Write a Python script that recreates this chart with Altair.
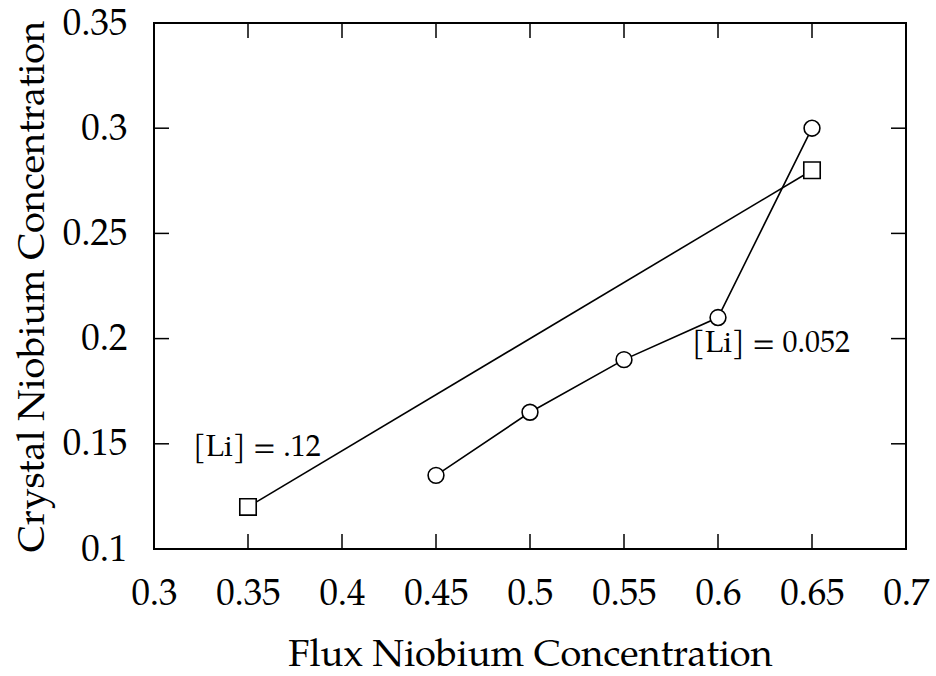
import altair as alt
import pandas as pd

# Series with [Li] = .12 (squares)
sq_x = [0.35, 0.65]
sq_y = [0.12, 0.28]
# Series with [Li] = 0.052 (circles)
ci_x = [0.45, 0.50, 0.55, 0.60, 0.65]
ci_y = [0.135, 0.165, 0.19, 0.21, 0.30]

x_ticks = [0.3, 0.35, 0.4, 0.45, 0.5, 0.55, 0.6, 0.65, 0.7]
y_ticks = [0.1, 0.15, 0.2, 0.25, 0.3, 0.35]

ann_text = ["[Li] = .12", "[Li] = 0.052"]
ann_x = [0.3207, 0.5862]
ann_y = [0.1485, 0.1979]

FONT = "P052, 'TeX Gyre Pagella', 'URW Palladio L', Palatino, 'Liberation Serif', serif"
W, H = 752, 526
TL = 15

sq = pd.DataFrame({"x": sq_x, "y": sq_y})
ci = pd.DataFrame({"x": ci_x, "y": ci_y})
ann = pd.DataFrame({"x": ann_x, "y": ann_y, "t": ann_text})
xt = pd.DataFrame({"v": x_ticks[1:-1]})
yt = pd.DataFrame({"v": y_ticks[1:-1]})

xs = alt.Scale(domain=[0.3, 0.7], nice=False, zero=False)
ys = alt.Scale(domain=[0.1, 0.35], nice=False, zero=False)

xax = alt.Axis(values=x_ticks, format="~g", ticks=False, domain=False, grid=False,
               labelFlush=False, labelOverlap=False,
               labelFont=FONT, labelFontSize=37, labelColor="black", labelPadding=26,
               title="Flux Niobium Concentration", titleFont=FONT, titleFontSize=38,
               titleFontWeight="normal", titleColor="black", titlePadding=24)
yax = alt.Axis(values=y_ticks, format="~g", ticks=False, domain=False, grid=False,
               labelFlush=False, labelOverlap=False,
               labelFont=FONT, labelFontSize=37, labelColor="black", labelPadding=27,
               title="Crystal Niobium Concentration", titleFont=FONT, titleFontSize=38,
               titleFontWeight="normal", titleColor="black", titlePadding=11)

def series(df, shape, size):
    base = alt.Chart(df)
    line = base.mark_line(color="black", strokeWidth=1.6).encode(
        x=alt.X("x:Q", scale=xs, axis=xax), y=alt.Y("y:Q", scale=ys, axis=yax))
    pts = base.mark_point(shape=shape, size=size, filled=True, fill="white",
                          stroke="black", strokeWidth=1.6, opacity=1).encode(
        x=alt.X("x:Q", scale=xs), y=alt.Y("y:Q", scale=ys))
    return line + pts

bot = alt.Chart(xt).mark_rule(color="black", strokeWidth=1.5).encode(
    x=alt.X("v:Q", scale=xs), y=alt.value(H), y2=alt.value(H - TL))
top = alt.Chart(xt).mark_rule(color="black", strokeWidth=1.5).encode(
    x=alt.X("v:Q", scale=xs), y=alt.value(0), y2=alt.value(TL))
left = alt.Chart(yt).mark_rule(color="black", strokeWidth=1.5).encode(
    y=alt.Y("v:Q", scale=ys), x=alt.value(0), x2=alt.value(TL))
right = alt.Chart(yt).mark_rule(color="black", strokeWidth=1.5).encode(
    y=alt.Y("v:Q", scale=ys), x=alt.value(W), x2=alt.value(W - TL))

text = alt.Chart(ann).mark_text(align="left", baseline="middle", font=FONT,
                                fontSize=30, color="black").encode(
    x=alt.X("x:Q", scale=xs), y=alt.Y("y:Q", scale=ys), text="t:N")

chart = alt.layer(
    bot, top, left, right,
    series(sq, "square", 270),
    series(ci, "circle", 250),
    text,
).properties(
    width=W, height=H,
    autosize=alt.AutoSizeParams(type="none"),
    padding={"left": 154, "top": 23, "right": 29, "bottom": 127},
    background="white",
).configure_view(stroke="black", strokeWidth=2)

chart.save("out.html", embed_options={"renderer": "svg", "actions": False})
